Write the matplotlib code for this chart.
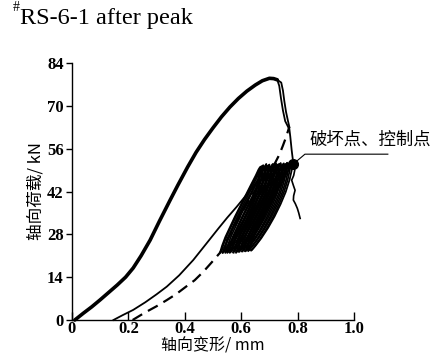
import matplotlib
matplotlib.use("Agg")
import matplotlib.pyplot as plt

# 骨架曲线（峰前加载 + 峰值）
env_x = [0.01, 0.04, 0.07, 0.10, 0.13, 0.16, 0.19, 0.217, 0.245, 0.277, 0.31, 0.348, 0.375,
         0.41, 0.44, 0.47, 0.50, 0.53, 0.56, 0.59, 0.62, 0.65, 0.675, 0.70, 0.715, 0.728]
env_y = [0.0, 2.2, 4.3, 6.6, 9.0, 11.4, 14.0, 17.0, 21.0, 26.1, 32.3, 39.2, 44.0,
         50.0, 54.8, 59.0, 62.8, 66.4, 69.6, 72.4, 74.8, 76.8, 78.2, 79.0, 78.9, 78.5]

# 峰后下降段（两条并行线）
dropA_x = [0.715, 0.728, 0.735, 0.741, 0.748, 0.756, 0.767]
dropA_y = [78.9, 78.5, 76.5, 72.5, 68.5, 65.0, 63.0]
dropB_x = [0.728, 0.742, 0.748, 0.753, 0.759, 0.766, 0.771]
dropB_y = [78.5, 77.6, 75.0, 71.5, 68.0, 65.0, 63.0]

# 交点到破坏点
fail_x = [0.770, 0.774, 0.779, 0.785]
fail_y = [63.0, 60.0, 55.5, 51.0]

# 卸载虚线
dash_x = [0.215, 0.26, 0.30, 0.336, 0.37, 0.40, 0.435, 0.466, 0.495, 0.525, 0.57, 0.62,
          0.66, 0.70, 0.72, 0.735, 0.748, 0.760, 0.770]
dash_y = [0.0, 2.5, 4.5, 6.5, 8.5, 10.6, 13.0, 15.8, 18.8, 22.0, 29.5, 38.0,
          44.0, 49.0, 51.3, 54.0, 57.0, 60.0, 63.0]

# 细实线（再加载）
thin_x = [0.147, 0.18, 0.217, 0.26, 0.30, 0.336, 0.38, 0.43, 0.475, 0.519, 0.55, 0.584,
          0.615, 0.643, 0.662, 0.678]
thin_y = [0.0, 1.6, 3.3, 5.8, 8.4, 10.9, 14.6, 19.6, 24.8, 29.9, 33.4, 37.0,
          40.5, 43.5, 46.2, 49.5]

# 破坏后尾段
tail_x = [0.785, 0.790, 0.786, 0.779, 0.785, 0.791, 0.786, 0.785, 0.792, 0.799, 0.804, 0.809]
tail_y = [51.0, 49.0, 47.2, 45.7, 44.0, 42.4, 40.6, 39.2, 38.0, 36.5, 35.0, 33.2]

# 循环加卸载：每圈的底部/顶部位移与荷载
cyc_bot_x = [0.525, 0.530, 0.535, 0.541, 0.546, 0.551, 0.557, 0.562, 0.567, 0.573, 0.578,
             0.583, 0.589, 0.594, 0.600, 0.605, 0.610, 0.616, 0.621, 0.626, 0.630]
cyc_top_x = [0.667, 0.672, 0.678, 0.684, 0.689, 0.695, 0.700, 0.706, 0.712, 0.717, 0.723,
             0.729, 0.734, 0.740, 0.746, 0.751, 0.757, 0.763, 0.769, 0.775, 0.782]
cyc_bot_y = [22.0, 22.4, 22.0, 22.8, 22.3, 22.0, 22.6, 22.2, 22.8, 22.0, 22.5,
             22.3, 22.8, 22.4, 23.0, 22.5, 22.8, 22.6, 23.0, 22.7, 23.0]
cyc_top_y = [50.0, 50.3, 50.6, 50.2, 51.0, 50.5, 50.8, 50.3, 51.0, 50.6, 51.2,
             50.8, 51.0, 51.3, 50.8, 51.2, 51.0, 51.4, 51.2, 51.5, 51.5]
# 单圈形状（相对位置）
loop_fy = [0.0, 0.08, 0.18, 0.30, 0.42, 0.55, 0.68, 0.80, 0.90, 0.97, 1.0,
           0.92, 0.80, 0.66, 0.52, 0.38, 0.25, 0.13, 0.04, 0.0]
loop_fx = [0.0, 0.05, 0.13, 0.25, 0.37, 0.51, 0.65, 0.78, 0.89, 0.96, 1.0,
           0.985, 0.93, 0.84, 0.72, 0.58, 0.43, 0.27, 0.13, 0.06]

xticks = [0, 0.2, 0.4, 0.6, 0.8, 1.0]
xtick_labels = ['0', '0.2', '0.4', '0.6', '0.8', '1.0']
yticks = [0, 14, 28, 42, 56, 70, 84]

serif = ['Liberation Serif', 'Noto Sans CJK SC']
cjk = ['Noto Sans CJK SC', 'Liberation Serif']

fig = plt.figure(figsize=(4.30, 3.61), dpi=100)
ax = fig.add_axes([72 / 430, 1 - 320 / 361, 282 / 430, 257 / 361])

ax.plot(env_x, env_y, color='black', lw=2.6, solid_capstyle='round', solid_joinstyle='round',
        clip_on=False)
ax.plot(dropA_x, dropA_y, color='black', lw=1.3)
ax.plot(dropB_x, dropB_y, color='black', lw=1.3)
ax.plot(fail_x, fail_y, color='black', lw=1.3)
ax.plot(thin_x, thin_y, color='black', lw=1.3, clip_on=False)
ax.plot(dash_x, dash_y, color='black', lw=1.6, ls=(0, (5, 3)), clip_on=False)
ax.plot(tail_x, tail_y, color='black', lw=1.2)

for xb, xt, yb, yt in zip(cyc_bot_x, cyc_top_x, cyc_bot_y, cyc_top_y):
    lx = [xb + (xt - xb) * f for f in loop_fx]
    ly = [yb + (yt - yb) * f for f in loop_fy]
    ax.plot(lx, ly, color='black', lw=1.3, solid_joinstyle='round')

ax.plot([0.785], [51.0], 'o', color='black', ms=7)

# 标注
ax.plot([0.785, 0.826, 1.12], [51.0, 54.2, 54.2], color='black', lw=0.8, clip_on=False)
ax.text(0.842, 59.0, '破坏点、控制点', family=cjk, fontsize=12.5, va='center', ha='left',
        clip_on=False)

ax.set_xlim(0, 1.0)
ax.set_ylim(0, 84)
ax.spines['top'].set_visible(False)
ax.spines['right'].set_visible(False)
ax.spines['left'].set_linewidth(1.0)
ax.spines['bottom'].set_linewidth(1.0)

ax.set_xticks(xticks)
ax.set_xticklabels(xtick_labels)
ax.set_yticks(yticks)
ax.tick_params(axis='x', direction='in', length=6, width=1.0, pad=1)
ax.tick_params(axis='y', direction='out', length=4, width=1.0, pad=2)
for lab in ax.get_xticklabels() + ax.get_yticklabels():
    lab.set_family(serif)
    lab.set_fontsize(12)
    lab.set_fontweight('bold')

ax.set_xlabel('轴向变形/ mm', family=cjk, fontsize=11.5, labelpad=0)
ax.set_ylabel('轴向荷载/ kN', family=cjk, fontsize=12, labelpad=2)

fig.text(13 / 430, 1 - 11 / 361, '#', family=serif, fontsize=10, va='baseline')
fig.text(20 / 430, 1 - 24 / 361, 'RS-6-1 after peak', family=serif, fontsize=17.5, va='baseline')

fig.savefig('out.png', dpi=100)
